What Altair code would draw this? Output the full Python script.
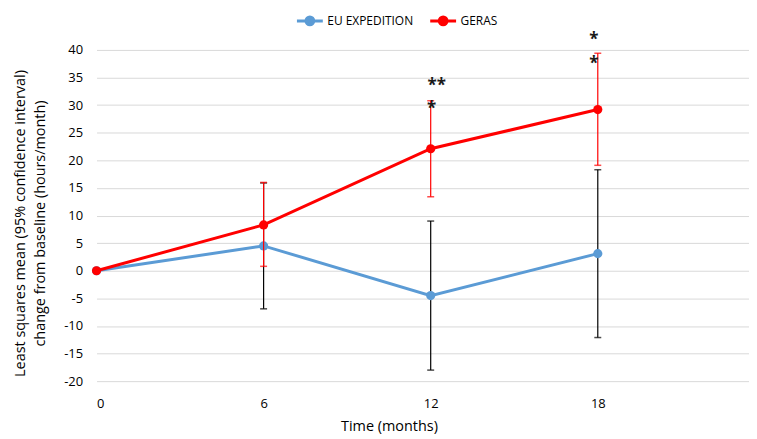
import altair as alt
import pandas as pd

months = [0, 6, 12, 18]
series_names = ["EU EXPEDITION", "GERAS"]
eu_mean = [0, 4.5, -4.5, 3.1]
eu_lower = [0, -6.9, -18.0, -12.1]
eu_upper = [0, 15.9, 9.0, 18.3]
geras_mean = [0, 8.3, 22.1, 29.2]
geras_lower = [0, 0.8, 13.4, 19.1]
geras_upper = [0, 16.0, 30.8, 39.4]

star_month = [12, 12, 18, 18]
star_value = [34.2, 30.0, 42.5, 38.2]
star_label = ["**", "*", "*", "*"]

y_ticks = list(range(-20, 45, 5))

rows = []
for name, mean, lo, hi in [
    (series_names[0], eu_mean, eu_lower, eu_upper),
    (series_names[1], geras_mean, geras_lower, geras_upper),
]:
    for m, v, l, h in zip(months, mean, lo, hi):
        rows.append({"series": name, "month": m, "value": v, "lo": l, "hi": h})
df = pd.DataFrame(rows)
err = df[df["month"] > 0]
stars = pd.DataFrame({"month": star_month, "value": star_value, "label": star_label})

FONT = "Open Sans"
xscale = alt.Scale(domain=[0, 23.43], nice=False, zero=False)
yscale = alt.Scale(domain=[-20, 40], nice=False)
color = alt.Color(
    "series:N",
    scale=alt.Scale(domain=series_names, range=["#5B9BD5", "#FF0000"]),
    legend=alt.Legend(
        orient="none", legendX=200, legendY=-44, direction="horizontal", title=None,
        symbolType="M-1,0L1,0M-0.3,0A0.3,0.3,0,1,1,0.3,0A0.3,0.3,0,1,1,-0.3,0",
        symbolSize=676, symbolStrokeWidth=3, labelFont=FONT, labelFontSize=12,
        labelColor="#000000", columnPadding=10, labelOffset=3,
    ),
)

x_axis = alt.Axis(
    values=months, title="Time (months)", grid=False, domain=False, ticks=False,
    labelFont=FONT, labelFontSize=13, labelColor="#000000", labelPadding=17,
    labelExpr="toString(datum.value)",
    titleFont=FONT, titleFontSize=14.5, titleFontWeight="normal", titleColor="#000000",
    titleX=294, titleY=46, titleBaseline="middle", titleAlign="center",
)
y_axis = alt.Axis(
    values=y_ticks, title=["Least squares mean (95% confidence interval)", "change from baseline (hours/month)"],
    grid=True, gridColor="#D9D9D9", gridWidth=1, domain=False, ticks=False,
    labelFont=FONT, labelFontSize=13, labelColor="#000000", labelPadding=14,
    labelOverlap=False, labelExpr="toString(datum.value)",
    titleFont=FONT, titleFontSize=14.5, titleFontWeight="normal", titleColor="#000000",
    titleAngle=-90, titleX=-76, titleY=174, titleBaseline="middle", titleLineHeight=20,
    titleAlign="center",
)

def xenc():
    return alt.X("month:Q", scale=xscale, axis=x_axis)

def yenc(field):
    return alt.Y(field, scale=yscale, axis=y_axis)

base = alt.Chart(df)
err_base = alt.Chart(err)

eu_bars = err_base.transform_filter(alt.datum.series == series_names[0])
ge_bars = err_base.transform_filter(alt.datum.series == series_names[1])

def bars(chart, col):
    rule = chart.mark_rule(color=col, strokeWidth=1.2).encode(
        x=xenc(), y=yenc("lo:Q"), y2="hi:Q")
    cap_lo = chart.mark_tick(color=col, size=7, thickness=1.5, orient="horizontal").encode(
        x=xenc(), y=yenc("lo:Q"))
    cap_hi = chart.mark_tick(color=col, size=7, thickness=1.5, orient="horizontal").encode(
        x=xenc(), y=yenc("hi:Q"))
    return [rule, cap_lo, cap_hi]

eu_line = base.transform_filter(alt.datum.series == series_names[0])
ge_line = base.transform_filter(alt.datum.series == series_names[1])

def line(chart):
    ln = chart.mark_line(strokeWidth=3).encode(x=xenc(), y=yenc("value:Q"), color=color)
    pt = chart.mark_point(filled=True, size=85, opacity=1).encode(x=xenc(), y=yenc("value:Q"), color=color)
    return [ln, pt]

st = alt.Chart(stars)
def star_layer(cond, dx):
    return st.transform_filter(cond).mark_text(
        font=FONT, fontSize=17, fontWeight="bold", align="center", baseline="middle",
        dx=dx, dy=4, color="#1A1A1A",
    ).encode(x=xenc(), y=yenc("value:Q"), text="label:N")

s1 = star_layer((alt.datum.month == 12) & (alt.datum.label == "**"), 6)
s2 = star_layer((alt.datum.month == 12) & (alt.datum.label == "*"), 1)
s3 = star_layer(alt.datum.month == 18, -4)

layers = bars(eu_bars, "#000000") + line(eu_line) + bars(ge_bars, "#FF0000") + line(ge_line) + [s1, s2, s3]

chart = alt.layer(*layers).properties(
    width=656, height=333,
    background="#FFFFFF",
    autosize=alt.AutoSizeParams(type="none"),
    padding={"left": 89, "top": 41, "right": 0, "bottom": 56},
).configure_view(stroke=None, strokeWidth=0)

chart.save("out.html", embed_options={"renderer": "svg", "actions": False})
